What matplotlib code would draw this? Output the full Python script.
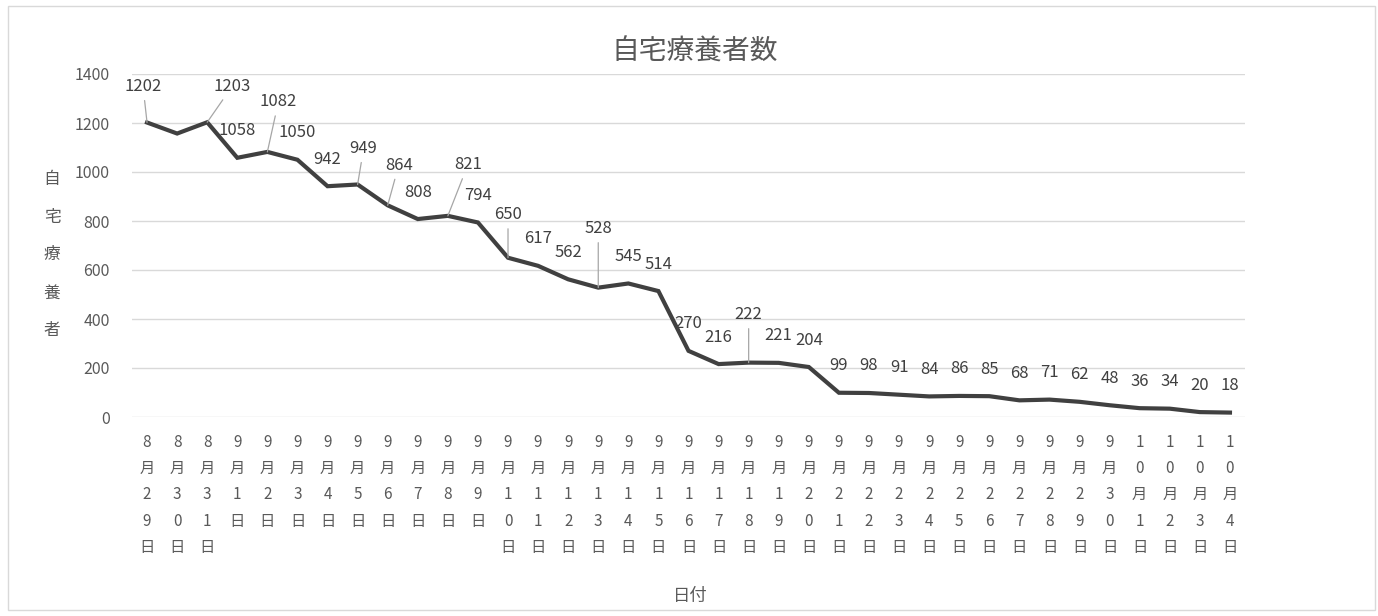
import matplotlib
matplotlib.use('Agg')
from matplotlib import pyplot as plt
from matplotlib.patches import Rectangle

plt.rcParams['font.family'] = ['Noto Sans CJK JP', 'DejaVu Sans']

# dates shown on the x axis
months = [8, 8, 8] + [9] * 30 + [10] * 4
days = [29, 30, 31] + list(range(1, 31)) + [1, 2, 3, 4]

# number of people in home care (8/30 has no label in the original)
values = [1202, 1157, 1203, 1058, 1082, 1050, 942, 949, 864, 808, 821, 794,
          650, 617, 562, 528, 545, 514, 270, 216, 222, 221, 204,
          99, 98, 91, 84, 86, 85, 68, 71, 62, 48, 36, 34, 20, 18]
labels = ['1202', None, '1203', '1058', '1082', '1050', '942', '949', '864',
          '808', '821', '794', '650', '617', '562', '528', '545', '514',
          '270', '216', '222', '221', '204', '99', '98', '91', '84', '86',
          '85', '68', '71', '62', '48', '36', '34', '20', '18']

# label offsets in pixels where excel moved them (with leader line)
moved = {0: (-4, 36), 2: (25, 36), 4: (11, 50), 7: (6, 36), 8: (11, 40),
         10: (20, 51), 12: (0, 43), 15: (0, 59), 20: (0, 48)}

ticklabels = []
for m, d in zip(months, days):
    ticklabels.append('\n'.join(list(str(m)) + ['月'] + list(str(d)) + ['日']))

fig = plt.figure(figsize=(13.78, 6.16), dpi=100)
fig.patch.set_facecolor('white')
fig.patches.append(Rectangle((8 / 1378, 6 / 616), 1367 / 1378, 604 / 616,
                             transform=fig.transFigure, fill=False,
                             edgecolor='#d9d9d9', lw=1))
ax = fig.add_axes([132 / 1378, 1 - 417 / 616, 1113 / 1378, 343 / 616])

x = list(range(len(values)))
ax.plot(x, values, color='#404040', lw=3, solid_joinstyle='miter', zorder=3)

for i, (v, lab) in enumerate(zip(values, labels)):
    if lab is None:
        continue
    if i in moved:
        dx, dy = moved[i]
        ax.annotate(lab, (i, v), xytext=(dx, dy), textcoords='offset pixels',
                    ha='center', va='center', fontsize=12, color='#404040',
                    arrowprops=dict(arrowstyle='-', color='#a6a6a6', lw=0.9,
                                    shrinkA=2, shrinkB=0))
    else:
        ax.annotate(lab, (i, v), xytext=(0, 27), textcoords='offset pixels',
                    ha='center', va='center', fontsize=12, color='#404040')

ax.set_xlim(-0.5, len(values) - 0.5)
ax.set_ylim(0, 1400)
ax.set_yticks(range(0, 1401, 200))
ax.set_xticks(x)
ax.set_xticklabels(ticklabels, fontsize=11, color='#595959', linespacing=1.72,
                   va='top')
ax.tick_params(axis='y', labelsize=11.5, labelcolor='#595959', length=0, pad=16)
ax.tick_params(axis='x', length=0, pad=12)
ax.grid(axis='y', color='#d9d9d9', lw=1)
for s in ax.spines.values():
    s.set_visible(False)

fig.text(695 / 1378, 1 - 52 / 616, '自宅療養者数', ha='center', va='center',
         fontsize=20, color='#595959')
fig.text(52 / 1378, 1 - 255 / 616, '自\n宅\n療\n養\n者', ha='center', va='center',
         fontsize=12, color='#595959', linespacing=2.6)
fig.text(690 / 1378, 1 - 596 / 616, '日付', ha='center', va='center',
         fontsize=12.5, color='#595959')

plt.savefig('out.png', dpi=100)
